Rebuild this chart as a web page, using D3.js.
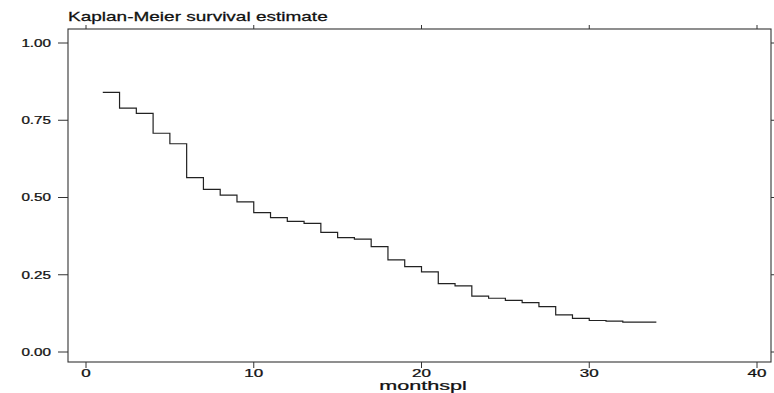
<!DOCTYPE html>
<html lang="en">
  <head>
    <meta charset='utf-8'>
    <script src='https://d3js.org/d3.v7.min.js'></script>
    <title>Kaplan-Meier survival estimate</title>
    <style>
      body {
        margin: 0px;
        background: #fff;
      }
      text {
        font-family: 'Liberation Sans', Arial, sans-serif;
        fill: #111;
        stroke: #111;
        stroke-width: 0.25px;
      }
    </style>
  </head>
  <body>
    <div id='viz'></div>
    <script>
      // step times (months) and survival estimate
      const stepTimes = [1, 2, 3, 4, 5, 6, 7, 8, 9, 10, 11, 12, 13, 14, 15, 16,
                         17, 18, 19, 20, 21, 22, 23, 24, 25, 26, 27, 28, 29, 30, 31, 32, 34];
      const survival = [0.840, 0.789, 0.772, 0.708, 0.674, 0.564, 0.526, 0.508, 0.486, 0.451,
                        0.435, 0.423, 0.416, 0.387, 0.370, 0.365, 0.341, 0.298, 0.276, 0.259,
                        0.221, 0.214, 0.181, 0.174, 0.167, 0.160, 0.147, 0.120, 0.109, 0.102,
                        0.100, 0.097, 0.097];
      const xTicks = [0, 10, 20, 30, 40];
      const yTicks = [0, 0.25, 0.5, 0.75, 1];
      const title = 'Kaplan-Meier survival estimate';
      const xLabel = 'monthspl';

      const width = 774, height = 393;
      const box = { left: 68, right: 771, top: 29, bottom: 362 };

      const svg = d3.select('#viz').append('svg')
        .attr('width', width)
        .attr('height', height);

      const xScale = d3.scaleLinear().domain([0, 40]).range([86, 757]);
      const yScale = d3.scaleLinear().domain([0, 1]).range([352, 43]);

      // scanned text looks stretched sideways, so scale glyphs in x
      function stretchText(g, x, y, str, size, sx, anchor) {
        return g.append('text')
          .attr('transform', `translate(${x},${y}) scale(${sx},1)`)
          .attr('text-anchor', anchor)
          .style('font-size', size + 'px')
          .text(str);
      }

      // frame
      svg.append('rect')
        .attr('x', box.left)
        .attr('y', box.top)
        .attr('width', box.right - box.left)
        .attr('height', box.bottom - box.top)
        .attr('fill', 'none')
        .attr('stroke', '#333')
        .attr('stroke-width', 1.1);

      // y ticks + labels
      const yAxisG = svg.append('g');
      yTicks.forEach(v => {
        const y = yScale(v);
        yAxisG.append('line')
          .attr('x1', 58).attr('x2', box.left)
          .attr('y1', y).attr('y2', y)
          .attr('stroke', '#333');
        yAxisG.append('line')
          .attr('x1', box.right).attr('x2', box.right + 3)
          .attr('y1', y).attr('y2', y)
          .attr('stroke', '#333');
        stretchText(yAxisG, 51, y + 3.8, d3.format('.2f')(v), 10.5, 1.45, 'end');
      });

      // x ticks + labels
      const xAxisG = svg.append('g');
      xTicks.forEach(v => {
        const x = xScale(v);
        xAxisG.append('line')
          .attr('x1', x).attr('x2', x)
          .attr('y1', box.bottom).attr('y2', box.bottom + 6)
          .attr('stroke', '#333');
        xAxisG.append('line')
          .attr('x1', x).attr('x2', x)
          .attr('y1', box.top).attr('y2', box.top - 4)
          .attr('stroke', '#333');
        stretchText(xAxisG, x, 377, String(v), 10, 1.7, 'middle');
      });

      // survival curve
      const data = stepTimes.map((t, i) => ({ t: t, s: survival[i] }));
      const line = d3.line()
        .x(d => xScale(d.t))
        .y(d => yScale(d.s))
        .curve(d3.curveStepAfter);

      svg.append('path')
        .datum(data)
        .attr('d', line)
        .attr('fill', 'none')
        .attr('stroke', '#222')
        .attr('stroke-width', 1.2);

      // title and axis title
      stretchText(svg, 68, 21, title, 12.5, 1.52, 'start');
      stretchText(svg, 423, 390, xLabel, 12, 1.8, 'middle');
    </script>
  </body>
</html>
